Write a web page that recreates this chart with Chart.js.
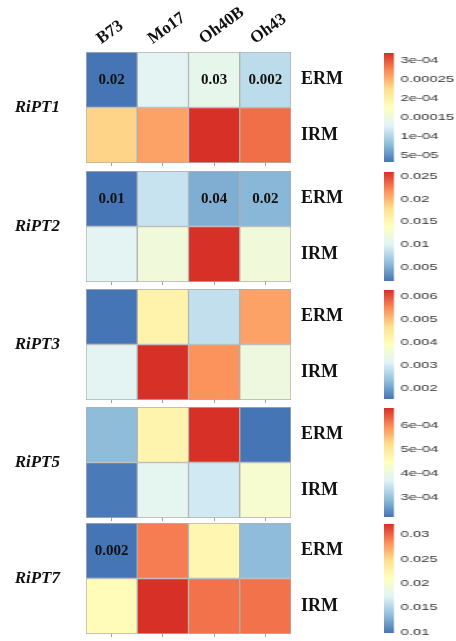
<!DOCTYPE html>
<html>
<head>
<meta charset="utf-8">
<title>RiPT expression heatmaps</title>
<script src="https://cdn.jsdelivr.net/npm/chart.js@4.4.1/dist/chart.umd.min.js"></script>
<style>
  html, body { margin: 0; padding: 0; background: #ffffff; }
  #page { position: relative; width: 456px; height: 641px; overflow: hidden; background: #ffffff; }
  .panel { position: absolute; left: 0; }
  .legend { position: absolute; left: 384px; transform-origin: 0 0; }
  canvas { display: block; }
</style>
</head>
<body>
<div id="page"></div>
<script>
// ---- data -------------------------------------------------------------
const cultivars = ['B73', 'Mo17', 'Oh40B', 'Oh43'];
const tissues = ['ERM', 'IRM'];
const genes = ['RiPT1', 'RiPT2', 'RiPT3', 'RiPT5', 'RiPT7'];

// relative expression, cultivar order B73, Mo17, Oh40B, Oh43
const ript1Erm = [3.2e-5, 1.33e-4, 1.39e-4, 1.07e-4];
const ript1Irm = [2.31e-4, 2.60e-4, 3.2e-4, 2.88e-4];
const ript2Erm = [0.0019, 0.0087, 0.0050, 0.0055];
const ript2Irm = [0.0104, 0.0121, 0.0261, 0.0121];
const ript3Erm = [0.00157, 0.00424, 0.00284, 0.00528];
const ript3Irm = [0.00321, 0.00626, 0.00542, 0.00349];
const ript5Erm = [2.93e-4, 4.74e-4, 6.73e-4, 2.21e-4];
const ript5Irm = [2.26e-4, 3.84e-4, 3.57e-4, 4.24e-4];
const ript7Erm = [0.0098, 0.0291, 0.0221, 0.0134];
const ript7Irm = [0.0214, 0.0322, 0.0295, 0.0295];

// significance labels printed in the ERM row
const ript1Sig = ['0.02', '', '0.03', '0.002'];
const ript2Sig = ['0.01', '', '0.04', '0.02'];
const ript3Sig = ['', '', '', ''];
const ript5Sig = ['', '', '', ''];
const ript7Sig = ['0.002', '', '', ''];

// colour key ticks
const ript1Ticks = [5e-5, 1e-4, 1.5e-4, 2e-4, 2.5e-4, 3e-4];
const ript1TickLabels = ['5e-05', '1e-04', '0.00015', '2e-04', '0.00025', '3e-04'];
const ript2Ticks = [0.005, 0.01, 0.015, 0.02, 0.025];
const ript2TickLabels = ['0.005', '0.01', '0.015', '0.02', '0.025'];
const ript3Ticks = [0.002, 0.003, 0.004, 0.005, 0.006];
const ript3TickLabels = ['0.002', '0.003', '0.004', '0.005', '0.006'];
const ript5Ticks = [3e-4, 4e-4, 5e-4, 6e-4];
const ript5TickLabels = ['3e-04', '4e-04', '5e-04', '6e-04'];
const ript7Ticks = [0.01, 0.015, 0.02, 0.025, 0.03];
const ript7TickLabels = ['0.01', '0.015', '0.02', '0.025', '0.03'];

// ---- styling / layout -------------------------------------------------
const palette = ['#4575B4', '#91BFDB', '#E0F3F8', '#FFFFBF', '#FEE090', '#FC8D59', '#D73027'];
const SERIF = '"Liberation Serif", "Times New Roman", serif';
const SANS = '"Liberation Sans", Arial, sans-serif';
const PANEL_TOP = [52, 171, 289, 407, 523];
const PANEL_H = 111;
const LEGEND_STRETCH = 1.65;

const panels = [
  { gene: genes[0], erm: ript1Erm, irm: ript1Irm, sig: ript1Sig, ticks: ript1Ticks, tickLabels: ript1TickLabels },
  { gene: genes[1], erm: ript2Erm, irm: ript2Irm, sig: ript2Sig, ticks: ript2Ticks, tickLabels: ript2TickLabels },
  { gene: genes[2], erm: ript3Erm, irm: ript3Irm, sig: ript3Sig, ticks: ript3Ticks, tickLabels: ript3TickLabels },
  { gene: genes[3], erm: ript5Erm, irm: ript5Irm, sig: ript5Sig, ticks: ript5Ticks, tickLabels: ript5TickLabels },
  { gene: genes[4], erm: ript7Erm, irm: ript7Irm, sig: ript7Sig, ticks: ript7Ticks, tickLabels: ript7TickLabels }
];

function hexToRgb(h) {
  const n = parseInt(h.slice(1), 16);
  return [(n >> 16) & 255, (n >> 8) & 255, n & 255];
}
const paletteRgb = palette.map(hexToRgb);

function colorAt(t) {
  t = Math.min(1, Math.max(0, t));
  const pos = t * (paletteRgb.length - 1);
  const k = Math.min(paletteRgb.length - 2, Math.floor(pos));
  const f = pos - k;
  const a = paletteRgb[k], b = paletteRgb[k + 1];
  const c = a.map((v, j) => Math.round(v + (b[j] - v) * f));
  return `rgb(${c[0]},${c[1]},${c[2]})`;
}

function extent(values) {
  return [Math.min(...values), Math.max(...values)];
}

const page = document.getElementById('page');

function addCanvas(cls, top, w, h) {
  const div = document.createElement('div');
  div.className = cls;
  div.style.top = top + 'px';
  const canvas = document.createElement('canvas');
  canvas.width = w; canvas.height = h;
  canvas.style.width = w + 'px'; canvas.style.height = h + 'px';
  div.appendChild(canvas);
  page.appendChild(div);
  return { div, canvas };
}

// ---- one heatmap per gene ---------------------------------------------
function makePanel(p, i) {
  const first = i === 0;
  const topSpace = first ? 52 : 12;
  const W = 360, H = topSpace + PANEL_H + 12;
  const { canvas } = addCanvas('panel', PANEL_TOP[i] - topSpace, W, H);
  const [lo, hi] = extent(p.erm.concat(p.irm));
  const fill = v => colorAt((v - lo) / (hi - lo));

  const sigLabels = {
    id: 'sigLabels',
    afterDatasetsDraw(chart) {
      const meta = chart.getDatasetMeta(1);
      const ctx = chart.ctx;
      ctx.save();
      ctx.font = `bold 15px ${SERIF}`;
      ctx.fillStyle = '#111111';
      ctx.textAlign = 'center';
      ctx.textBaseline = 'middle';
      meta.data.forEach((bar, k) => {
        if (!p.sig[k]) return;
        const { x, y, base } = bar.getProps(['x', 'y', 'base'], true);
        ctx.fillText(p.sig[k], x, (y + base) / 2);
      });
      ctx.restore();
    }
  };

  new Chart(canvas, {
    type: 'bar',
    data: {
      labels: cultivars,
      datasets: [
        { label: tissues[1], data: p.irm.map(() => 1), backgroundColor: p.irm.map(fill) },
        { label: tissues[0], data: p.erm.map(() => 1), backgroundColor: p.erm.map(fill) }
      ]
    },
    options: {
      responsive: false,
      animation: false,
      devicePixelRatio: 1,
      layout: { padding: { top: first ? 0 : 12, bottom: 0, left: 0, right: 0 } },
      plugins: { legend: { display: false }, tooltip: { enabled: false } },
      datasets: {
        bar: {
          categoryPercentage: 1, barPercentage: 1,
          borderColor: '#b0b0b0', borderWidth: 1, borderSkipped: false
        }
      },
      scales: {
        x: {
          type: 'category', position: 'top', stacked: true, display: first, offset: true,
          grid: { display: false, drawTicks: false }, border: { display: false },
          ticks: {
            minRotation: 36, maxRotation: 36, autoSkip: false, padding: 3, labelOffset: -1,
            color: '#111111', font: { family: SERIF, weight: 'bold', size: 17 }
          },
          afterFit: s => { s.height = first ? 52 : 0; }
        },
        xb: {
          type: 'category', position: 'bottom', offset: true, labels: cultivars,
          grid: { display: true, drawOnChartArea: false, drawTicks: true, tickLength: 3, offset: false, color: '#a0a0a0' },
          border: { display: false },
          ticks: { display: false },
          afterFit: s => { s.height = 12; }
        },
        y: {
          type: 'linear', position: 'right', stacked: true, min: 0, max: tissues.length,
          grid: { display: false, drawTicks: true, tickLength: 10 }, border: { display: false },
          afterBuildTicks: s => { s.ticks = tissues.map((t, k) => ({ value: tissues.length - k - 0.5 })); },
          ticks: {
            padding: 0, color: '#111111', font: { family: SERIF, weight: 'bold', size: 18 },
            callback: v => tissues[tissues.length - 1 - Math.floor(v)]
          },
          afterFit: s => { s.width = 69; }
        },
        g: {
          type: 'linear', position: 'left', min: 0, max: tissues.length,
          grid: { display: false, drawTicks: true, tickLength: 26 }, border: { display: false },
          afterBuildTicks: s => { s.ticks = [{ value: tissues.length / 2 }]; },
          ticks: {
            padding: 0, color: '#111111',
            font: { family: SERIF, weight: 'bold', style: 'italic', size: 17 },
            callback: () => p.gene
          },
          afterFit: s => { s.width = 86; }
        }
      }
    },
    plugins: [sigLabels]
  });
}

// ---- colour key per gene ----------------------------------------------
function makeLegend(p, i) {
  const pad = 10;
  const barTop = PANEL_TOP[i] + 1;
  const barH = PANEL_H - 2;
  const barW = 6;
  const W = 52, H = barH + 2 * pad;
  const { div, canvas } = addCanvas('legend', barTop - pad, W, H);
  div.style.transform = `scaleX(${LEGEND_STRETCH})`;
  const [lo, hi] = extent(p.erm.concat(p.irm));

  new Chart(canvas, {
    type: 'bar',
    data: {
      labels: [''],
      datasets: [{
        data: [[lo, hi]],
        borderWidth: 0,
        categoryPercentage: 1, barPercentage: 1,
        backgroundColor: c => {
          const ch = c.chart;
          if (!ch.chartArea) return palette[0];
          const y = ch.scales.y;
          const g = ch.ctx.createLinearGradient(0, y.getPixelForValue(lo), 0, y.getPixelForValue(hi));
          palette.forEach((col, k) => g.addColorStop(k / (palette.length - 1), col));
          return g;
        }
      }]
    },
    options: {
      responsive: false,
      animation: false,
      devicePixelRatio: 1,
      layout: { padding: { top: pad, bottom: pad, left: 0, right: 0 } },
      plugins: { legend: { display: false }, tooltip: { enabled: false } },
      scales: {
        x: { display: false },
        y: {
          position: 'right', min: lo, max: hi,
          grid: { display: false, drawTicks: false }, border: { display: false },
          afterBuildTicks: s => { s.ticks = p.ticks.map(v => ({ value: v })); },
          ticks: {
            autoSkip: false, padding: 4, color: '#333333',
            font: { family: SANS, size: 9 },
            callback: (v, k) => p.tickLabels[k]
          },
          afterFit: s => { s.width = W - barW; }
        }
      }
    }
  });
}

panels.forEach((p, i) => { makePanel(p, i); makeLegend(p, i); });
</script>
</body>
</html>
